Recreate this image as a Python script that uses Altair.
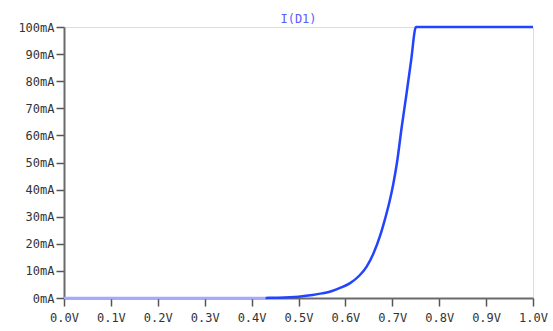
import altair as alt
import pandas as pd

volts = [0.0, 0.1, 0.2, 0.3, 0.4, 0.43, 0.45, 0.5, 0.53, 0.55, 0.57, 0.59, 0.61, 0.63, 0.645,
         0.66, 0.674, 0.685, 0.694, 0.702, 0.71, 0.72, 0.73, 0.74, 0.7505, 0.8, 0.9, 1.0]
current_ma = [0, 0, 0, 0, 0, 0.02, 0.1, 0.5, 1.1, 1.7, 2.5, 3.8, 5.5, 8.3, 11.5,
              16.5, 23, 29.5, 35.5, 42, 50, 63, 75, 87.5, 100, 100, 100, 100]
x_ticks = [round(i * 0.1, 1) for i in range(11)]
y_ticks = list(range(0, 101, 10))

df = pd.DataFrame({"V": volts, "I": current_ma})
FONT = "DejaVu Sans Mono"

x = alt.X("V:Q", scale=alt.Scale(domain=[0, 1], nice=False),
          axis=alt.Axis(values=x_ticks, title=None, grid=False,
                        labelExpr="format(datum.value, '.1f') + 'V'",
                        tickSize=8, labelPadding=6, labelFont=FONT, labelFontSize=12,
                        labelColor="#333333", domainColor="#6a6a6a", domainWidth=2,
                        tickColor="#555555", tickWidth=1.5, labelFlush=False))
y = alt.Y("I:Q", scale=alt.Scale(domain=[0, 100], nice=False),
          axis=alt.Axis(values=y_ticks, title=None, grid=False,
                        labelExpr="datum.value + 'mA'",
                        tickSize=8, labelPadding=2, labelFont=FONT, labelFontSize=12,
                        labelColor="#333333", domainColor="#6a6a6a", domainWidth=2,
                        tickColor="#555555", tickWidth=1.5))

low = alt.Chart(df).transform_filter("datum.V <= 0.43").mark_line(
    color="#a8a8ff", strokeWidth=2.5).encode(x=x, y=y)
high = alt.Chart(df).transform_filter("datum.V >= 0.43").mark_line(
    color="#2244ff", strokeWidth=2.5, interpolate="monotone").encode(x=x, y=y)

chart = alt.layer(low, high).properties(
    width=469, height=271,
    autosize=alt.AutoSizeParams(type="none"),
    padding={"left": 64, "top": 27, "right": 20, "bottom": 33},
    title=alt.TitleParams("I(D1)", font=FONT, fontSize=12, fontWeight="normal",
                          color="#5a5aff", offset=2, dy=7, anchor="middle"),
).configure_view(stroke="#888888", strokeWidth=2).configure(background="white")

chart.save("out.html", embed_options={"renderer": "svg", "actions": False})
